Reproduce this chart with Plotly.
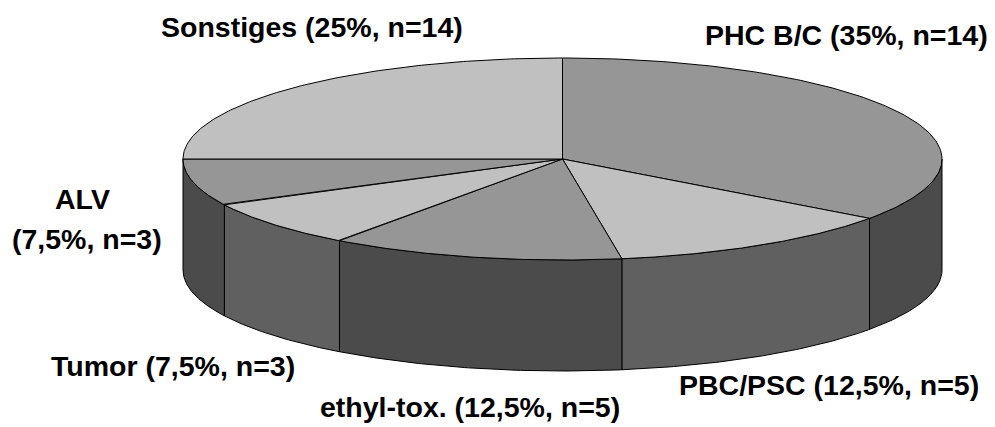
import numpy as np
import plotly.graph_objects as go

# ---- data ----
categories = ["PHC B/C", "PBC/PSC", "ethyl-tox.", "Tumor", "ALV", "Sonstiges"]
percent_labels = ["35%", "12,5%", "12,5%", "7,5%", "7,5%", "25%"]
values = [35.0, 12.5, 12.5, 7.5, 7.5, 25.0]
counts = [14, 5, 5, 3, 3, 14]

# ---- styles / geometry ----
top_colors = ["#969696", "#c0c0c0", "#969696", "#c0c0c0", "#969696", "#c0c0c0"]
side_colors = ["#4b4b4b", "#606060", "#4b4b4b", "#606060", "#4b4b4b", "#606060"]
W, H = 995, 427
CX, CY, RX, RY, DEPTH = 562.5, 159.0, 379.5, 101.0, 111.0
FONT = dict(family="Liberation Sans, Arial, sans-serif", size=28.5, color="black")

# label anchor positions (pixels): (x, y) per category
label_pos = {
    "PHC B/C": [(846, 35)],
    "PBC/PSC": [(829, 385)],
    "ethyl-tox.": [(470, 407)],
    "Tumor": [(173, 366)],
    "ALV": [(82, 199), (87, 239)],
    "Sonstiges": [(312, 27)],
}


def pt(theta_deg, dy=0.0):
    t = np.radians(theta_deg)
    return CX + RX * np.sin(t), CY - RY * np.cos(t) + dy


fig = go.Figure()
total = sum(values)
bounds = np.concatenate([[0.0], np.cumsum(values) / total * 360.0])

# side walls (front half only: 90..270 deg clockwise from top)
for i in range(len(values)):
    a0, a1 = max(bounds[i], 90.0), min(bounds[i + 1], 270.0)
    if a1 <= a0:
        continue
    th = np.linspace(a0, a1, 80)
    xt, yt = pt(th)
    xb, yb = pt(th[::-1], DEPTH)
    xs = np.concatenate([xt, xb, [xt[0]]])
    ys = np.concatenate([yt, yb, [yt[0]]])
    fig.add_trace(go.Scatter(x=xs, y=ys, mode="lines", fill="toself",
                             fillcolor=side_colors[i],
                             line=dict(color="black", width=1),
                             hoverinfo="skip", showlegend=False))

# top faces
for i in range(len(values)):
    th = np.linspace(bounds[i], bounds[i + 1], 150)
    xa, ya = pt(th)
    xs = np.concatenate([[CX], xa, [CX]])
    ys = np.concatenate([[CY], ya, [CY]])
    fig.add_trace(go.Scatter(x=xs, y=ys, mode="lines", fill="toself",
                             fillcolor=top_colors[i],
                             line=dict(color="black", width=1),
                             hoverinfo="skip", showlegend=False))

# labels
for name, pct, n in zip(categories, percent_labels, counts):
    full = f"{name} ({pct}, n={n})"
    pos = label_pos[name]
    texts = [full] if len(pos) == 1 else [name, f"({pct}, n={n})"]
    for (x, y), t in zip(pos, texts):
        fig.add_annotation(x=x, y=y, text=f"<b>{t}</b>", showarrow=False,
                           xanchor="center", yanchor="middle", font=FONT)

fig.update_layout(
    width=W, height=H, margin=dict(l=0, r=0, t=0, b=0),
    paper_bgcolor="white", plot_bgcolor="white",
    xaxis=dict(range=[0, W], visible=False, fixedrange=True),
    yaxis=dict(range=[H, 0], visible=False, fixedrange=True),
)
fig.write_html("out.html",
               config={"displayModeBar": False, "staticPlot": True},
               post_script="document.body.style.margin='0';"
                           "document.body.style.overflow='hidden';")
